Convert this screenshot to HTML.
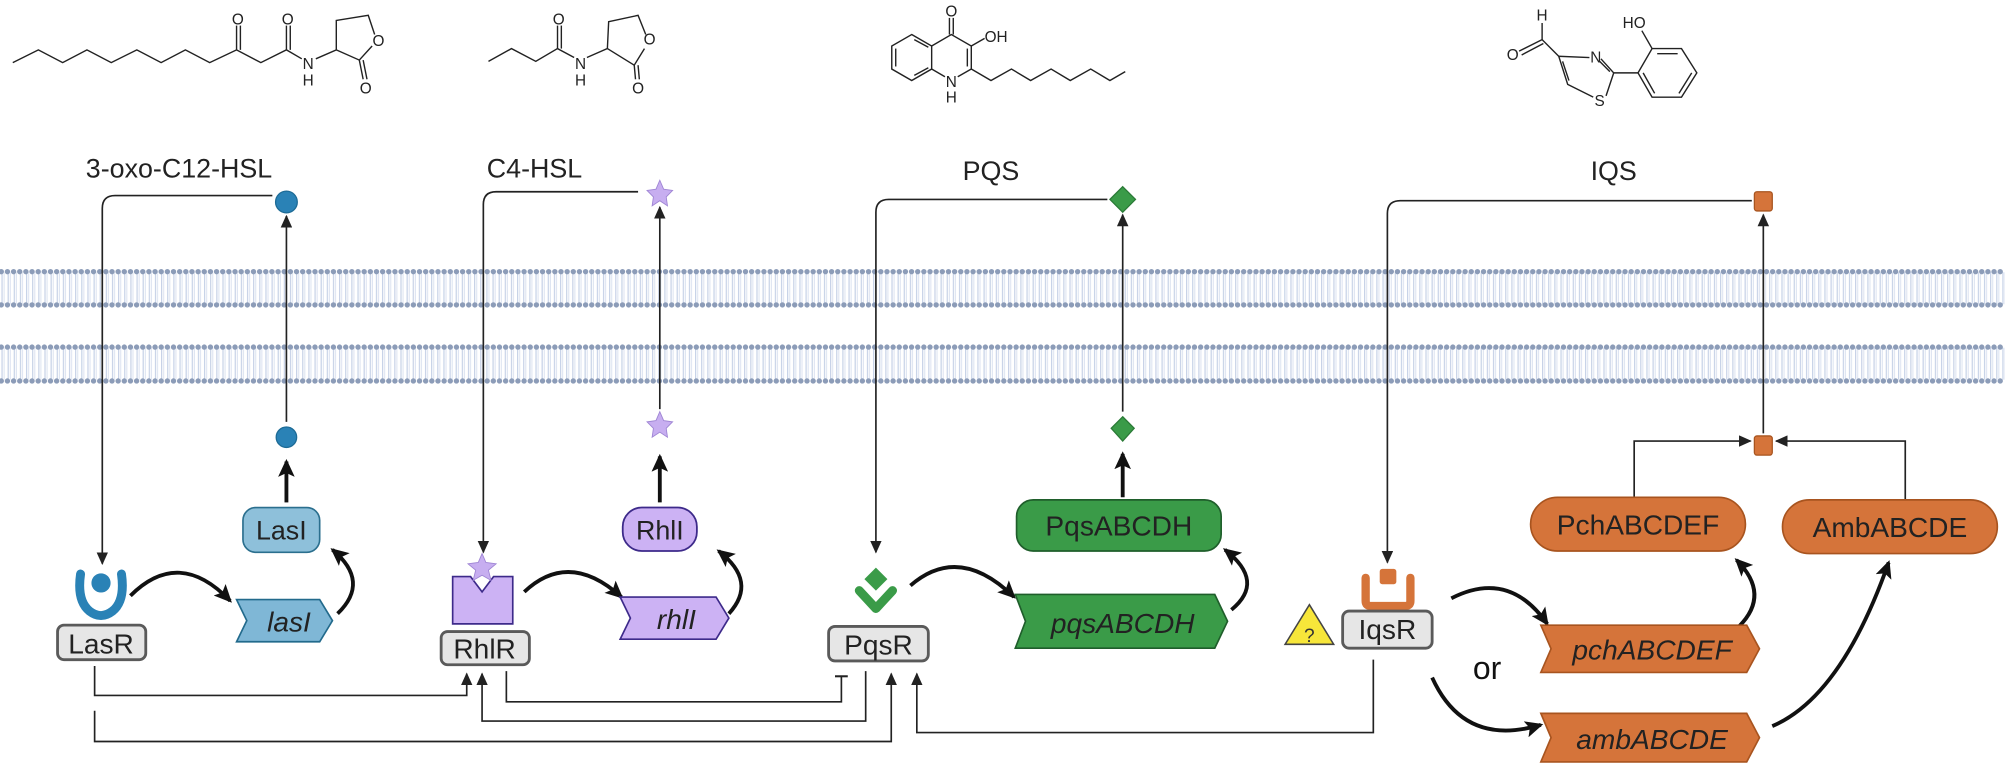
<!DOCTYPE html>
<html><head><meta charset="utf-8"><style>
html,body{margin:0;padding:0;background:#fff;}
svg{display:block;}
text{font-family:"Liberation Sans",sans-serif;}
</style></head><body>
<svg width="2005" height="776" viewBox="0 0 1568 607" preserveAspectRatio="none" xmlns="http://www.w3.org/2000/svg">
<defs>
<marker id="a" markerUnits="userSpaceOnUse" markerWidth="10" markerHeight="9" refX="9" refY="4.5" orient="auto"><path d="M0,0 L10,4.5 L0,9 z" fill="#222"/></marker>
<marker id="b" markerUnits="userSpaceOnUse" markerWidth="14" markerHeight="13" refX="12" refY="6.5" orient="auto"><path d="M0,0 L14,6.5 L0,13 L3,6.5 z" fill="#111"/></marker>
<pattern id="tails" width="4.8" height="30" patternUnits="userSpaceOnUse"><line x1="1.6" y1="0" x2="1.6" y2="30" stroke="#c3cfe5" stroke-width="0.9"/><line x1="3.2" y1="0" x2="3.2" y2="30" stroke="#d6deee" stroke-width="0.7"/></pattern>
</defs>

<g>
<rect x="0" y="213" width="1568" height="25" fill="url(#tails)"/>
<rect x="0" y="272" width="1568" height="25" fill="url(#tails)"/>
<g stroke="#8c9cb8" stroke-width="4.2" stroke-linecap="round" stroke-dasharray="0.01 4.8" fill="none">
<line x1="1" y1="212.5" x2="1568" y2="212.5"/>
<line x1="1" y1="238.5" x2="1568" y2="238.5"/>
<line x1="1" y1="271.5" x2="1568" y2="271.5"/>
<line x1="1" y1="298" x2="1568" y2="298"/>
</g>
</g>

<g stroke="#222" stroke-width="1.1" fill="none">
<polyline points="10,49 30,39 49,49 68,39 87,49 107,39 126,49 145,39 164,49 185,39 204,49 224,39 236,46"/>
<line x1="185" y1="39" x2="185" y2="20"/><line x1="188" y1="39" x2="188" y2="20"/>
<line x1="224" y1="39" x2="224" y2="20"/><line x1="227" y1="39" x2="227" y2="20"/>
<polyline points="247,46 263,39 263,16 288,12 293,27"/>
<polyline points="263,39 281,47 291,36"/>
<line x1="281" y1="47" x2="284" y2="62"/><line x1="284" y1="47" x2="287" y2="62"/>
<polyline points="382,48 400,38 419,48 436,38 449,45"/>
<line x1="436" y1="38" x2="436" y2="20"/><line x1="439" y1="38" x2="439" y2="20"/>
<polyline points="459,45 475,38 476,17 499,12 505,27"/>
<polyline points="475,38 496,51 504,38"/>
<line x1="496" y1="51" x2="497" y2="62"/><line x1="499" y1="51" x2="500" y2="62"/>
<polygon points="713,27 728.6,36 728.6,54 713,63 697.4,54 697.4,36"/>
<line x1="700.5" y1="38" x2="700.5" y2="52"/><line x1="715" y1="31" x2="726" y2="37"/><line x1="715" y1="59" x2="726" y2="53"/>
<polyline points="728.6,36 744,27 759.6,36 759.6,54"/>
<polyline points="728.6,54 739,60"/><polyline points="749,60 759.6,54"/>
<line x1="756.5" y1="38" x2="756.5" y2="52"/>
<line x1="742.5" y1="27" x2="742.5" y2="14"/><line x1="745.5" y1="27" x2="745.5" y2="14"/>
<line x1="759.6" y1="36" x2="770" y2="30"/>
<polyline points="759.6,54 775,63 791,54 806,63 822,54 837,63 853,54 868,63 880,56"/>
<line x1="1206" y1="18" x2="1206" y2="31"/>
<line x1="1206" y1="31" x2="1188" y2="40"/><line x1="1207" y1="34" x2="1190" y2="43"/>
<line x1="1206" y1="31" x2="1219" y2="44"/>
<polyline points="1243,45 1219,44 1226,66 1246,76"/>
<line x1="1222" y1="48" x2="1227" y2="63"/>
<polyline points="1256,75 1262,57 1252,46"/>
<line x1="1259" y1="56" x2="1251" y2="48"/>
<line x1="1262" y1="57" x2="1281" y2="57"/>
<polygon points="1281,57 1292,38 1315,38 1327,57 1315,76 1292,76"/>
<line x1="1296" y1="42" x2="1312" y2="42"/><line x1="1323" y1="57" x2="1313" y2="73"/><line x1="1285" y1="57" x2="1294" y2="73"/>
<line x1="1292" y1="38" x2="1284" y2="24"/>
</g>
<g font-size="12" fill="#222" text-anchor="middle">
<text x="186" y="19">O</text><text x="225" y="19">O</text><text x="241" y="54">N</text><text x="241" y="67">H</text>
<text x="296" y="36">O</text><text x="286" y="73">O</text>
<text x="437" y="19">O</text><text x="454" y="54">N</text><text x="454" y="67">H</text><text x="508" y="35">O</text><text x="499" y="73">O</text>
<text x="744" y="13">O</text><text x="779" y="33">OH</text><text x="744" y="68">N</text><text x="744" y="80">H</text>
<text x="1206" y="16">H</text><text x="1183" y="47">O</text><text x="1248" y="49">N</text><text x="1251" y="83">S</text><text x="1278" y="22">HO</text>
</g>

<g font-size="21" fill="#222" text-anchor="middle">
<text x="140" y="139">3-oxo-C12-HSL</text>
<text x="418" y="139">C4-HSL</text>
<text x="775" y="141">PQS</text>
<text x="1262" y="141">IQS</text>
</g>

<g stroke="#222" stroke-width="1.3" fill="none">
<path d="M213,153 L90,153 Q80,153 80,163 L80,441" marker-end="url(#a)"/>
<line x1="224" y1="330" x2="224" y2="169" marker-end="url(#a)"/>
<path d="M499,150 L388,150 Q378,150 378,160 L378,432" marker-end="url(#a)"/>
<line x1="516" y1="320" x2="516" y2="162" marker-end="url(#a)"/>
<path d="M866,156 L695,156 Q685,156 685,166 L685,432" marker-end="url(#a)"/>
<line x1="878" y1="322" x2="878" y2="168" marker-end="url(#a)"/>
<path d="M1370,157 L1095,157 Q1085,157 1085,167 L1085,440" marker-end="url(#a)"/>
<line x1="1379" y1="339" x2="1379" y2="168" marker-end="url(#a)"/>
<path d="M1278,421 L1278,345 L1369,345" marker-end="url(#a)"/>
<path d="M1490,417 L1490,345 L1389,345" marker-end="url(#a)"/>
<path d="M74,521 L74,544 L365,544 L365,527" marker-end="url(#a)"/>
<path d="M74,556 L74,580 L697,580 L697,527" marker-end="url(#a)"/>
<path d="M396,525 L396,549 L658,549 L658,529"/>
<line x1="653" y1="529" x2="663" y2="529" stroke-width="1.6"/>
<path d="M677,525 L677,564 L377,564 L377,527" marker-end="url(#a)"/>
<path d="M1074,516 L1074,573 L717,573 L717,527" marker-end="url(#a)"/>
</g>
<g stroke="#111" stroke-width="3" fill="none">
<line x1="224" y1="393" x2="224" y2="361" marker-end="url(#b)"/>
<line x1="516" y1="393" x2="516" y2="357" marker-end="url(#b)"/>
<line x1="878" y1="389" x2="878" y2="355" marker-end="url(#b)"/>
</g>
<g stroke="#111" stroke-width="3" fill="none">
<path d="M102,466 Q140,428 180,470" marker-end="url(#b)"/>
<path d="M264,480 Q290,455 260,430" marker-end="url(#b)"/>
<path d="M410,463 Q445,430 486,467" marker-end="url(#b)"/>
<path d="M570,480 Q593,455 562,431" marker-end="url(#b)"/>
<path d="M712,458 Q750,425 793,467" marker-end="url(#b)"/>
<path d="M963,477 Q990,455 958,430" marker-end="url(#b)"/>
<path d="M1135,468 Q1180,445 1210,488" marker-end="url(#b)"/>
<path d="M1120,530 Q1145,585 1205,567" marker-end="url(#b)"/>
<path d="M1360,490 Q1385,465 1358,438" marker-end="url(#b)"/>
<path d="M1386,568 Q1440,545 1477,440" marker-end="url(#b)"/>
</g>

<circle cx="224" cy="158" r="8.5" fill="#2a82b6" stroke="#1d6b96"/>
<circle cx="224" cy="342" r="8" fill="#2a82b6" stroke="#1d6b96"/>
<path d="M516,141 L519,148 L526,149 L521,154 L522,161 L516,157 L510,161 L511,154 L506,149 L513,148 z" fill="#c7aef0" stroke="#9f85d4" stroke-width="0.7"/>
<path d="M516,322 L519,329 L526,330 L521,335 L522,342 L516,338 L510,342 L511,335 L506,330 L513,329 z" fill="#c7aef0" stroke="#9f85d4" stroke-width="0.7"/>
<polygon points="878,146 888,156 878,166 868,156" fill="#3a9b48" stroke="#2a7a36"/>
<polygon points="878,326 887,335 878,345 869,335" fill="#3a9b48" stroke="#2a7a36"/>
<rect x="1372" y="150" width="14" height="15" rx="2" fill="#d5743a" stroke="#a8541f"/>
<rect x="1372" y="341" width="14" height="15" rx="2" fill="#d5743a" stroke="#a8541f"/>

<rect x="190" y="397" width="60" height="35" rx="10" fill="#8ec0da" stroke="#2b6f8e" stroke-width="1.3"/>
<text x="220" y="422" font-size="21" text-anchor="middle" fill="#222">LasI</text>
<rect x="487" y="397" width="58" height="34" rx="15" fill="#ccb2f4" stroke="#3d2a8a" stroke-width="1.4"/>
<text x="516" y="422" font-size="21" text-anchor="middle" fill="#222">RhlI</text>
<rect x="795" y="391" width="160" height="40" rx="13" fill="#3a9b48" stroke="#1f5e2b" stroke-width="1.3"/>
<text x="875" y="419" font-size="22" text-anchor="middle" fill="#222">PqsABCDH</text>
<rect x="1197" y="389" width="168" height="42" rx="21" fill="#d5743a" stroke="#a8541f" stroke-width="1.3"/>
<text x="1281" y="418" font-size="22" text-anchor="middle" fill="#222">PchABCDEF</text>
<rect x="1394" y="391" width="168" height="42" rx="21" fill="#d5743a" stroke="#a8541f" stroke-width="1.3"/>
<text x="1478" y="420" font-size="22" text-anchor="middle" fill="#222">AmbABCDE</text>

<g stroke-width="1.3">
<path d="M185,469 L250,469 L260,485.5 L250,502 L185,502 L193,485.5 z" fill="#7fb7d6" stroke="#226a8c"/>
<path d="M485,467 L560,467 L570,483.5 L560,500 L485,500 L493,483.5 z" fill="#ccb2f4" stroke="#3d2a8a"/>
<path d="M794,465 L950,465 L960,486 L950,507 L794,507 L802,486 z" fill="#3a9b48" stroke="#1f5e2b"/>
<path d="M1205,489 L1366,489 L1376,507.5 L1366,526 L1205,526 L1213,507.5 z" fill="#d5743a" stroke="#a8541f"/>
<path d="M1205,558 L1366,558 L1376,577 L1366,596 L1205,596 L1213,577 z" fill="#d5743a" stroke="#a8541f"/>
</g>
<g font-size="22" font-style="italic" fill="#222" text-anchor="middle">
<text x="226" y="494">lasI</text>
<text x="529" y="492">rhlI</text>
<text x="878" y="495">pqsABCDH</text>
<text x="1292" y="516">pchABCDEF</text>
<text x="1292" y="586">ambABCDE</text>
</g>
<text x="1163" y="531" font-size="25" fill="#111" text-anchor="middle">or</text>

<circle cx="79" cy="456" r="7.5" fill="#2a82b6"/>
<path d="M63,449 Q60,470 70,478 Q79,485 88,478 Q98,470 95,449" fill="none" stroke="#2a82b6" stroke-width="7" stroke-linecap="round"/>
<path d="M354,451 L368,451 L377,463 L386,451 L401,451 L401,488 L354,488 z" fill="#ccb2f4" stroke="#3d2a8a" stroke-width="1.3"/>
<path d="M377,433 L380,440 L388,441 L382,446 L384,454 L377,450 L370,454 L372,446 L366,441 L374,440 z" fill="#c7aef0" stroke="#9f85d4" stroke-width="0.7"/>
<polygon points="685,444 694,453 685,462 676,453" fill="#3a9b48"/>
<polyline points="672,462 685,476 698,462" fill="none" stroke="#3a9b48" stroke-width="7" stroke-linejoin="round" stroke-linecap="round"/>
<path d="M1068,452 L1068,470 Q1068,474 1072,474 L1099,474 Q1103,474 1103,470 L1103,452" fill="none" stroke="#d5743a" stroke-width="6.5" stroke-linecap="round"/>
<rect x="1079" y="445" width="13" height="12" rx="2" fill="#d5743a"/>

<g fill="#e6e6e6" stroke="#5a5a5a" stroke-width="2.2">
<rect x="45" y="489" width="69" height="27" rx="5"/>
<rect x="345" y="494" width="69" height="26" rx="5"/>
<rect x="648" y="490" width="78" height="27" rx="5"/>
<rect x="1050" y="478" width="70" height="29" rx="5"/>
</g>
<g font-size="22" fill="#222" text-anchor="middle">
<text x="79" y="511">LasR</text>
<text x="379" y="515">RhlR</text>
<text x="687" y="512">PqsR</text>
<text x="1085" y="500">IqsR</text>
</g>
<polygon points="1024,473 1043,504 1005,504" fill="#f7e63a" stroke="#444" stroke-width="1.2"/>
<text x="1024" y="502" font-size="15" fill="#333" text-anchor="middle">?</text>
</svg>
</body></html>
